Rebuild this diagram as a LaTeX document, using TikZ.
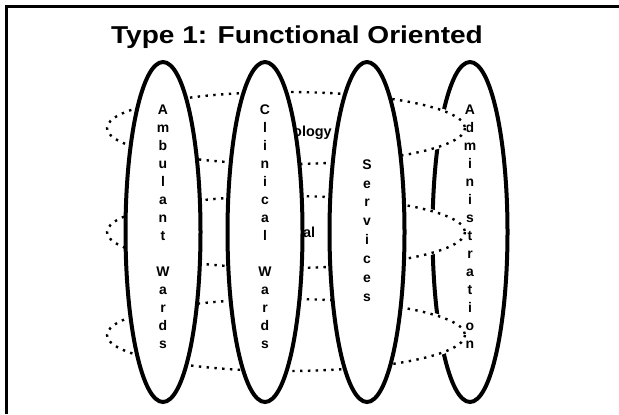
\documentclass[tikz,border=0pt]{standalone}
\usepackage{fontspec}
\setmainfont{Liberation Sans}
\begin{document}
\begin{tikzpicture}[x=1bp,y=-1bp,
  vbox/.style={draw=black,fill=white,line width=4bp},
  dotfill/.style={fill=white,draw=white,line width=3.5bp},
  dotbox/.style={draw=black,line width=2.4bp,dash pattern=on 2.4bp off 5.4bp},
  letters/.style={anchor=base,align=center,inner sep=0pt,font={\fontsize{14}{18}\selectfont\bfseries}},
  hidden/.style={anchor=base west,inner sep=0pt,font={\fontsize{14.5}{16}\selectfont\bfseries}},
  titletext/.style={anchor=base,inner sep=0pt,font={\fontsize{24.5}{28}\selectfont\bfseries},xscale=1.15,transform shape}
]
\useasboundingbox (0,0) rectangle (619,414);
\fill[white] (0,0) rectangle (619,414);
\draw[line width=3bp] (6,414) -- (6,6.5) -- (619,6.5);
\node[titletext] (title) at (297,43) {Type 1: Functional Oriented};

% Administration column (behind the rows)
\draw[vbox] (470,232) ellipse [x radius=37.5, y radius=170];
\node[letters] (admin) at (470,348) {A\\d\\m\\i\\n\\i\\s\\t\\r\\a\\t\\i\\o\\n};

% dotted rows
\foreach \y/\n in {128/rowA,232/rowB,335/rowC}{
  \draw[dotfill] (286,\y) ellipse [x radius=179, y radius=36];
  \draw[dotbox] (286,\y) ellipse [x radius=179, y radius=36];
  \coordinate (\n) at (286,\y);
}
\node[hidden] (ology) at (293,136) {ology};
\node[hidden] (al) at (303,237) {al};

% front columns
\draw[vbox] (163,232) ellipse [x radius=37.5, y radius=170];
\node[letters] (amb) at (163,348) {A\\m\\b\\u\\l\\a\\n\\t\\[18bp]W\\a\\r\\d\\s};
\draw[vbox] (265,232) ellipse [x radius=37.5, y radius=170];
\node[letters] (clin) at (265,348) {C\\l\\i\\n\\i\\c\\a\\l\\[18bp]W\\a\\r\\d\\s};
\draw[vbox] (367,232) ellipse [x radius=37.5, y radius=170];
\node[letters,font={\fontsize{14}{18.9}\selectfont\bfseries}] (serv) at (367,301) {S\\e\\r\\v\\i\\c\\e\\s};
\end{tikzpicture}
\end{document}
